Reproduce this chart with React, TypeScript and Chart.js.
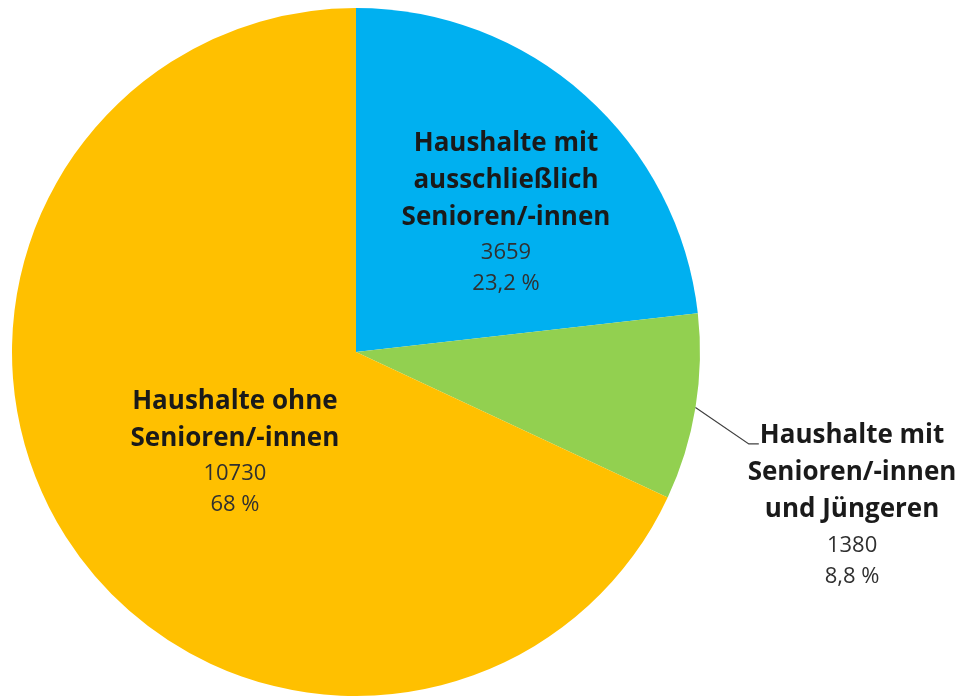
import React, { useEffect, useRef } from "react";
import { Chart, registerables } from "chart.js";

Chart.register(...registerables);

const categories = [
  ["Haushalte mit", "ausschließlich", "Senioren/-innen"],
  ["Haushalte mit", "Senioren/-innen", "und Jüngeren"],
  ["Haushalte ohne", "Senioren/-innen"],
];
const values = [3659, 1380, 10730];
const percentLabels = ["23,2 %", "8,8 %", "68 %"];
const colors = ["#00B0F0", "#92D050", "#FFC000"];

// label anchor offsets (first title line) relative to pie centre, as fractions of radius
const labelAnchors = [
  { dx: 0.436, dy: -0.61 },
  { dx: 1.442, dy: 0.241 },
  { dx: -0.352, dy: 0.14 },
];

const TITLE_FONT = "bold 26px 'Open Sans', Lato, sans-serif";
const NUM_FONT = "22px 'Open Sans', Lato, sans-serif";

const labelPlugin = {
  id: "sliceLabels",
  afterDraw(chart: any) {
    const ctx = chart.ctx;
    const meta = chart.getDatasetMeta(0);
    const arc0 = meta.data[0];
    if (!arc0) return;
    const cx = arc0.x;
    const cy = arc0.y;
    const r = arc0.outerRadius;
    ctx.save();
    ctx.textAlign = "center";
    ctx.textBaseline = "middle";
    meta.data.forEach((arc: any, i: number) => {
      const a = labelAnchors[i];
      const x = cx + a.dx * r;
      const y0 = cy + a.dy * r + 1;
      const lines = categories[i];
      let yy = y0;
      ctx.fillStyle = "#1a1a1a";
      ctx.font = TITLE_FONT;
      lines.forEach((ln: string, k: number) => {
        ctx.fillText(ln, x, yy);
        if (k < lines.length - 1) yy += 37;
      });
      yy += 36;
      ctx.fillStyle = "#303030";
      ctx.font = NUM_FONT;
      ctx.fillText(String(values[i]), x, yy);
      yy += 31;
      ctx.fillText(percentLabels[i], x, yy);

      if (i === 1) {
        const mid = (arc.startAngle + arc.endAngle) / 2;
        const sx = cx + Math.cos(mid) * r;
        const sy = cy + Math.sin(mid) * r;
        ctx.font = TITLE_FONT;
        const tw = ctx.measureText(lines[0]).width;
        const ex = x - tw / 2 - 1;
        const ly = y0 + 8;
        ctx.strokeStyle = "#404040";
        ctx.lineWidth = 1.2;
        ctx.beginPath();
        ctx.moveTo(sx, sy);
        ctx.lineTo(ex - 10, ly);
        ctx.lineTo(ex, ly);
        ctx.stroke();
      }
    });
    ctx.restore();
  },
};

export default function App() {
  const ref = useRef<HTMLCanvasElement>(null);
  useEffect(() => {
    if (!ref.current) return;
    const chart = new Chart(ref.current, {
      type: "pie",
      data: {
        labels: categories.map((c) => c.join(" ")),
        datasets: [
          {
            data: values,
            backgroundColor: colors,
            borderWidth: 0,
          },
        ],
      },
      options: {
        responsive: false,
        maintainAspectRatio: false,
        animation: false,
        layout: { padding: { left: 12, right: 269, top: 8, bottom: 0 } },
        plugins: {
          legend: { display: false },
          tooltip: { enabled: false },
        },
      },
      plugins: [labelPlugin],
    });
    return () => chart.destroy();
  }, []);
  return (
    <canvas
      ref={ref}
      width={969}
      height={696}
      style={{ position: "absolute", left: 0, top: 0, width: 969, height: 696 }}
    />
  );
}
